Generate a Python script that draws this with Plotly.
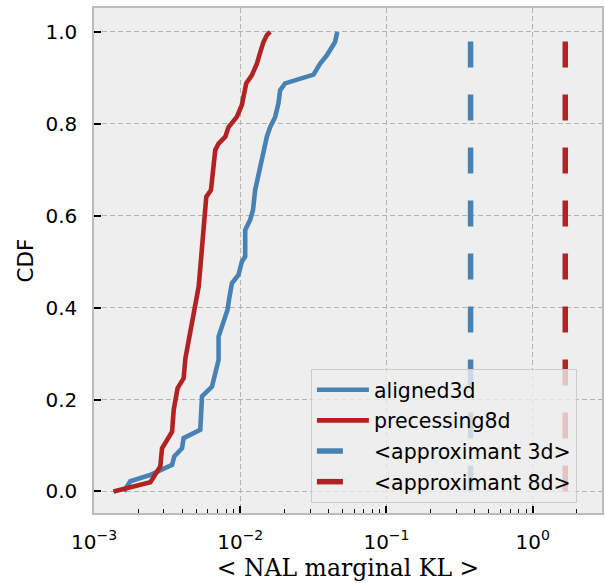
import plotly.graph_objects as go
import numpy as np

# ---- data ----
aligned3d_x = [1.60e-3, 1.77e-3, 2.43e-3, 3.42e-3, 3.54e-3, 4.00e-3, 4.10e-3, 5.33e-3, 5.48e-3,
               6.41e-3, 6.75e-3, 7.11e-3, 7.11e-3, 7.50e-3, 8.18e-3, 8.45e-3, 8.77e-3, 9.72e-3,
               1.026e-2, 1.081e-2, 1.081e-2, 1.169e-2, 1.222e-2, 1.265e-2, 1.334e-2, 1.371e-2,
               1.442e-2, 1.521e-2, 1.603e-2, 1.734e-2, 1.824e-2, 1.875e-2, 2.028e-2, 3.17e-2,
               3.52e-2, 3.91e-2, 4.45e-2, 4.57e-2, 4.61e-2]
aligned3d_cdf = [0.0, 0.022, 0.036, 0.058, 0.076, 0.094, 0.116, 0.134, 0.207,
                 0.228, 0.257, 0.286, 0.337, 0.359, 0.395, 0.424, 0.453, 0.471,
                 0.5, 0.511, 0.569, 0.591, 0.612, 0.656, 0.692, 0.714,
                 0.742, 0.772, 0.793, 0.815, 0.844, 0.873, 0.888, 0.907,
                 0.931, 0.949, 0.978, 0.993, 1.0]

precessing8d_x = [1.36e-3, 2.43e-3, 2.84e-3, 2.92e-3, 3.42e-3, 3.51e-3, 3.73e-3, 4.10e-3, 4.22e-3,
                  4.56e-3, 4.93e-3, 5.20e-3, 5.33e-3, 5.48e-3, 5.62e-3, 5.86e-3, 6.31e-3, 6.58e-3,
                  6.75e-3, 7.11e-3, 7.91e-3, 8.32e-3, 9.48e-3, 1.026e-2, 1.081e-2, 1.099e-2,
                  1.202e-2, 1.300e-2, 1.371e-2, 1.442e-2, 1.521e-2, 1.603e-2]
precessing8d_cdf = [0.0, 0.02, 0.054, 0.094, 0.13, 0.178, 0.225, 0.246, 0.29,
                    0.348, 0.417, 0.446, 0.486, 0.529, 0.591, 0.641, 0.656, 0.699,
                    0.743, 0.757, 0.772, 0.793, 0.815, 0.841, 0.870, 0.888,
                    0.906, 0.931, 0.956, 0.978, 0.993, 1.0]

approx_3d = 0.376
approx_8d = 1.67

x_tickvals = [1e-3, 1e-2, 1e-1, 1e0]
x_ticktext = ["10<sup>\u22123</sup>", "10<sup>\u22122</sup>", "10<sup>\u22121</sup>", "10<sup>0</sup>"]
y_tickvals = [0.0, 0.2, 0.4, 0.6, 0.8, 1.0]
y_ticktext = ["0.0", "0.2", "0.4", "0.6", "0.8", "1.0"]

BLUE = "#4682B4"
RED = "#B22222"

minor_vals = [m * 10.0 ** e for e in range(-3, 1) for m in range(2, 10)]

fig = go.Figure()
fig.add_trace(go.Scatter(x=aligned3d_x, y=aligned3d_cdf, mode="lines", name="aligned3d",
                         legendgroup="a", line=dict(color=BLUE, width=4.6)))
fig.add_trace(go.Scatter(x=precessing8d_x, y=precessing8d_cdf, mode="lines", name="precessing8d",
                         legendgroup="b", line=dict(color=RED, width=4.6)))
fig.add_trace(go.Scatter(x=[approx_3d, approx_3d], y=[0, 1], mode="lines", name="&lt;approximant 3d&gt;",
                         legendgroup="c", line=dict(color=BLUE, width=5.5, dash="26px,27px")))
fig.add_trace(go.Scatter(x=[approx_8d, approx_8d], y=[0, 1], mode="lines", name="&lt;approximant 8d&gt;",
                         legendgroup="d", line=dict(color=RED, width=5.5, dash="26px,27px")))

fig.update_layout(
    width=605, height=583,
    margin=dict(l=93.5, r=2.5, t=8, b=70),
    paper_bgcolor="white", plot_bgcolor="#EEEEEE",
    font=dict(family="DejaVu Sans", size=20, color="black"),
    showlegend=True,
    legend=dict(x=0.427, y=0.02, xanchor="left", yanchor="bottom",
                bgcolor="rgba(238,238,238,0.8)", bordercolor="#CCCCCC", borderwidth=1,
                font=dict(size=20.5, family="DejaVu Sans"), itemwidth=52,
                tracegroupgap=1),
)
fig.update_xaxes(type="log", range=[-3, 0.474], tickvals=x_tickvals, ticktext=x_ticktext,
                 ticks="inside", ticklen=7, tickwidth=1.5, tickcolor="black",
                 showline=True, linecolor="#BCBCBC", linewidth=1.5, mirror=True,
                 showgrid=True, gridcolor="#B2B2B2", griddash="5px,3px", gridwidth=1,
                 zeroline=False, ticklabelstandoff=10,
                 minor=dict(tickvals=minor_vals, ticks="inside", ticklen=4, tickcolor="black",
                            tickwidth=1, showgrid=False),
                 title=dict(text="&lt; NAL marginal KL &gt;",
                            font=dict(family="DejaVu Serif", size=23.5), standoff=6))
fig.update_yaxes(range=[-0.047, 1.052], tickvals=y_tickvals, ticktext=y_ticktext,
                 ticks="inside", ticklen=7, tickwidth=1.5, tickcolor="black",
                 showline=True, linecolor="#BCBCBC", linewidth=1.5, mirror=True,
                 showgrid=True, gridcolor="#B2B2B2", griddash="5px,3px", gridwidth=1,
                 zeroline=False, ticklabelstandoff=11,
                 title=dict(text="CDF", font=dict(family="DejaVu Sans", size=21.5), standoff=6))

fig.write_html("out.html")
